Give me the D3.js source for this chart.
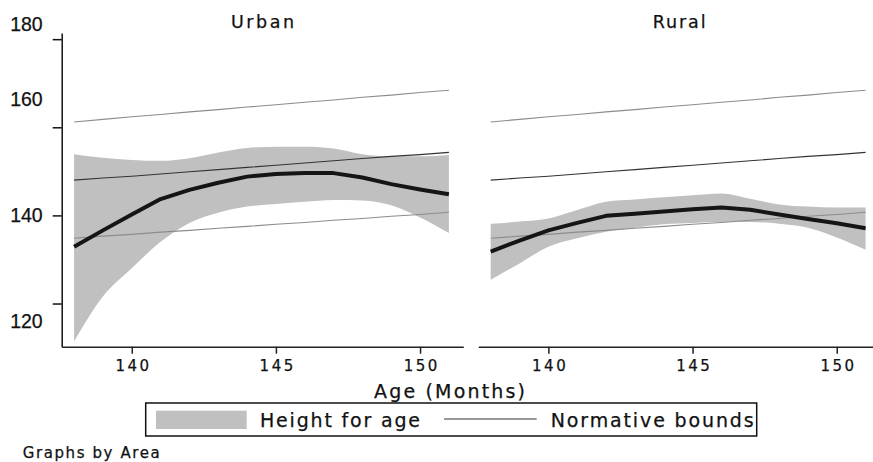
<!DOCTYPE html>
<html>
<head>
<meta charset="utf-8">
<script src="https://cdn.jsdelivr.net/npm/d3@7"></script>
<style>
  body { margin: 0; background: #fff; }
  svg { display: block; }
  text { stroke: #111; stroke-width: 0.25px; }
</style>
</head>
<body>
<svg id="chart" width="873" height="462"></svg>
<script>
// ----------------------------------------------------------------------------
// Data (height in cm by age in months)

const months = [138, 139, 140, 141, 142, 143, 144, 145, 146, 147, 148, 149, 150, 151];

const urbanMean = [132.9, 136.6, 140.2, 143.7, 145.8, 147.4, 148.8, 149.4, 149.6, 149.6, 148.6, 147.1, 145.9, 144.8];
const urbanLow  = [111.4, 121.6, 128.0, 134.0, 138.3, 140.6, 142.0, 142.6, 143.1, 143.5, 143.4, 142.3, 139.5, 136.0];
const urbanHigh = [153.9, 153.1, 152.6, 152.4, 153.0, 154.3, 155.3, 155.6, 155.6, 155.2, 153.9, 153.4, 153.4, 153.7];

const ruralMean = [131.8, 134.3, 136.6, 138.3, 139.9, 140.4, 140.9, 141.4, 141.8, 141.3, 140.2, 139.2, 138.2, 137.1];
const ruralLow  = [125.4, 129.1, 132.9, 134.8, 136.3, 137.2, 138.0, 138.3, 138.5, 138.5, 138.1, 137.2, 135.0, 132.2];
const ruralHigh = [138.1, 138.6, 139.3, 141.2, 143.1, 143.6, 144.1, 144.6, 145.0, 143.8, 142.5, 142.0, 141.8, 141.8];

// normative reference curves (same in both panels)
const normUpper = [161.2, 161.8, 162.4, 162.9, 163.5, 164.0, 164.6, 165.1, 165.7, 166.2, 166.8, 167.3, 167.9, 168.4];
const normMid   = [148.0, 148.5, 148.9, 149.4, 149.9, 150.4, 150.9, 151.4, 151.9, 152.4, 152.9, 153.4, 153.8, 154.3];
const normLower = [134.8, 135.3, 135.7, 136.2, 136.6, 137.1, 137.5, 138.0, 138.4, 138.9, 139.3, 139.8, 140.2, 140.7];

const yTicks = [120, 140, 160, 180];
const xTicks = [140, 145, 150];
const panelNames = ["Urban", "Rural"];
const legendLabels = ["Height for age", "Normative bounds"];

// ----------------------------------------------------------------------------

const svg = d3.select("#chart");

const bandColor = "#c0c0c0";
const normColor = "#8c8c8c";
const font = "DejaVu Sans";

const y = d3.scaleLinear().domain([110.2, 181.4]).range([346.7, 33]);

const panels = [
    { name: panelNames[0], range: [61.7, 463.3], mean: urbanMean, low: urbanLow, high: urbanHigh, yAxis: true, titleW: 63 },
    { name: panelNames[1], range: [478.3, 880], mean: ruralMean, low: ruralLow, high: ruralHigh, yAxis: false, titleW: 53 }
];

panels.forEach(p => {
    const x = d3.scaleLinear().domain([137.57, 151.5]).range(p.range);
    const g = svg.append("g");

    const rows = months.map((m, i) => ({ m: m, mean: p.mean[i], lo: p.low[i], hi: p.high[i],
        up: normUpper[i], mid: normMid[i], dn: normLower[i] }));

    // confidence band
    g.append("path")
        .datum(rows)
        .attr("fill", bandColor)
        .attr("d", d3.area().curve(d3.curveMonotoneX)
            .x(d => x(d.m)).y0(d => y(d.lo)).y1(d => y(d.hi)));

    // normative bounds
    const normLine = key => d3.line().x(d => x(d.m)).y(d => y(d[key]));
    g.append("path").datum(rows).attr("fill", "none")
        .attr("stroke", normColor).attr("stroke-width", 1.1).attr("d", normLine("up"));
    g.append("path").datum(rows).attr("fill", "none")
        .attr("stroke", "#333").attr("stroke-width", 1.1).attr("d", normLine("mid"));
    g.append("path").datum(rows).attr("fill", "none")
        .attr("stroke", normColor).attr("stroke-width", 1.1).attr("d", normLine("dn"));

    // mean height for age
    g.append("path").datum(rows).attr("fill", "none")
        .attr("stroke", "#151515").attr("stroke-width", 4)
        .attr("stroke-linejoin", "round")
        .attr("d", d3.line().x(d => x(d.m)).y(d => y(d.mean)));

    // x axis
    const xAxis = g.append("g")
        .attr("transform", "translate(0,346.7)")
        .call(d3.axisBottom(x).tickValues(xTicks).tickSize(7).tickPadding(7).tickSizeOuter(0));
    xAxis.select(".domain").attr("stroke", "#222").attr("stroke-width", 1.5);
    xAxis.selectAll(".tick line").attr("stroke", "#222").attr("stroke-width", 1.5);
    xAxis.selectAll(".tick text")
        .attr("font-family", font).attr("font-size", 15)
        .attr("letter-spacing", 2.5).attr("dx", 1.25)
        .attr("fill", "#111");

    // panel title
    g.append("text")
        .attr("x", (p.range[0] + p.range[1]) / 2 - p.titleW / 2)
        .attr("y", 28)
        .attr("font-family", font).attr("font-size", 17.5)
        .attr("textLength", p.titleW).attr("lengthAdjust", "spacing")
        .attr("fill", "#111")
        .text(p.name);

    if (p.yAxis) {
        const yAxis = g.append("g")
            .attr("transform", "translate(61.7,0)")
            .call(d3.axisLeft(y).tickValues(yTicks).tickSize(9).tickPadding(10).tickSizeOuter(0));
        yAxis.select(".domain").attr("stroke", "#111").attr("stroke-width", 1.5);
        yAxis.selectAll(".tick line").attr("stroke", "#111").attr("stroke-width", 1.5);
        // the reference draws its labels a little off their ticks
        const nudge = { 180: -15, 160: -28, 140: 0, 120: 18 };
        yAxis.selectAll(".tick text")
            .attr("font-family", "Liberation Sans").attr("font-size", 19.5)
            .attr("fill", "#111")
            .attr("y", d => nudge[d]);
    }
});

// axis title
svg.append("text")
    .attr("x", 374).attr("y", 398)
    .attr("font-family", font).attr("font-size", 19)
    .attr("textLength", 151).attr("lengthAdjust", "spacing")
    .attr("fill", "#111")
    .text("Age (Months)");

// legend
const legend = svg.append("g");
legend.append("rect")
    .attr("x", 145.7).attr("y", 403).attr("width", 611).attr("height", 33)
    .attr("fill", "#fff").attr("stroke", "#111").attr("stroke-width", 1.5);
legend.append("rect")
    .attr("x", 156).attr("y", 410.7).attr("width", 90.7).attr("height", 18.3)
    .attr("fill", bandColor);
legend.append("text")
    .attr("x", 260).attr("y", 427)
    .attr("font-family", font).attr("font-size", 19)
    .attr("textLength", 160).attr("lengthAdjust", "spacing")
    .attr("fill", "#111")
    .text(legendLabels[0]);
legend.append("line")
    .attr("x1", 444).attr("x2", 536.7).attr("y1", 419).attr("y2", 419)
    .attr("stroke", "#999").attr("stroke-width", 2);
legend.append("text")
    .attr("x", 550.7).attr("y", 427)
    .attr("font-family", font).attr("font-size", 19)
    .attr("textLength", 203).attr("lengthAdjust", "spacing")
    .attr("fill", "#111")
    .text(legendLabels[1]);

// note
svg.append("text")
    .attr("x", 22.7).attr("y", 457.5)
    .attr("font-family", font).attr("font-size", 15)
    .attr("textLength", 137).attr("lengthAdjust", "spacing")
    .attr("fill", "#111")
    .text("Graphs by Area");
</script>
</body>
</html>
